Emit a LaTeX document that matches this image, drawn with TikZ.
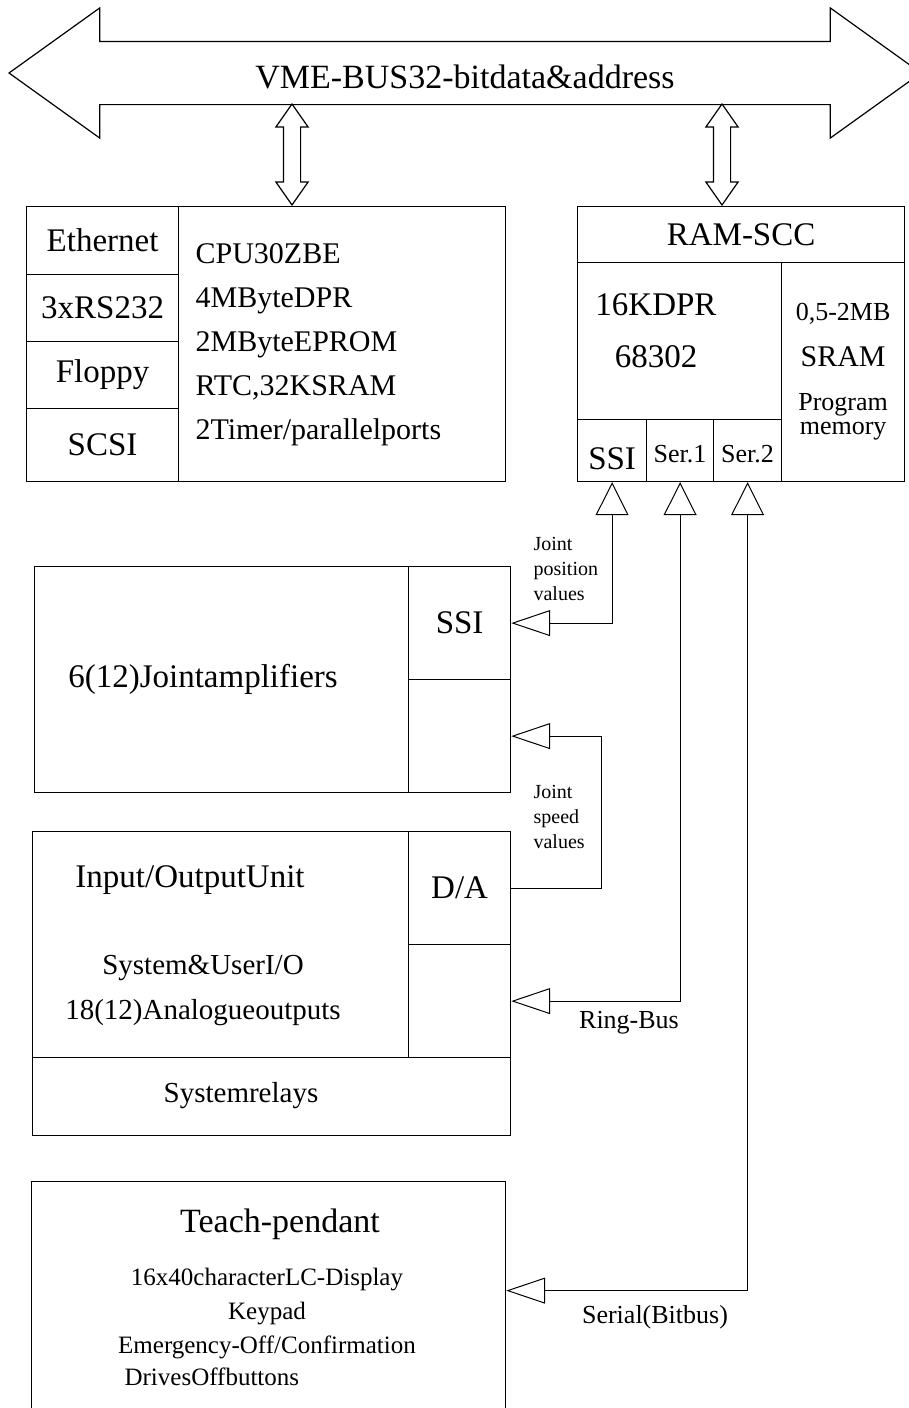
\documentclass[tikz,border=0pt]{standalone}
\usepackage{fontspec}
\setmainfont{Liberation Serif}
\usetikzlibrary{arrows.meta,positioning,calc,shapes.arrows}
\newcommand{\sz}[2]{\fontsize{#1}{#2}\selectfont}

\begin{document}
\begin{tikzpicture}[x=1pt,y=-1pt,line width=1.2pt,
  cell/.style={draw,rectangle,inner sep=0pt,anchor=north west},
  lbl/.style={inner sep=0pt},
  port/.style={draw,double arrow,rotate=90,inner sep=8pt,minimum height=101pt,
    double arrow head extend=7.5pt,double arrow tip angle=70},
  link/.style={line width=1pt},
  tipUp/.tip={Triangle[open,length=33pt,width=33pt]},
  tipLeft/.tip={Triangle[open,length=39pt,width=26pt]}]
\useasboundingbox (0,0) rectangle (909,1408);

% VME bus
\node[draw,double arrow,minimum height=912pt,minimum width=129pt,
  double arrow head extend=33.5pt,double arrow tip angle=71.3,
  inner xsep=0pt,inner ysep=15.5pt,text height=31pt,text depth=0pt,
  font=\sz{34}{40}] (bus) at (465,73) {VME-BUS32-bitdata\&address};
\node[port] (busL) at (292,154.5) {};
\node[port] (busR) at (722,154.5) {};

% CPU board
\node[cell,minimum width=479pt,minimum height=275pt] (cpu) at (26,206) {};
\node[cell,minimum width=152pt,minimum height=68pt,font=\sz{33}{40}] (eth) at (26,206) {Ethernet};
\node[cell,minimum width=152pt,minimum height=67pt,font=\sz{33}{40}] (rs) at (26,274) {3xRS232};
\node[cell,minimum width=152pt,minimum height=67pt,font=\sz{33}{40}] (flop) at (26,341) {Floppy};
\node[cell,minimum width=152pt,minimum height=73pt,font=\sz{33}{40}] (scsi) at (26,408) {SCSI};
\node[lbl,anchor=west,align=left,font=\sz{30}{44}] (cputxt) at (195,344.5)
  {CPU30ZBE\\4MByteDPR\\2MByteEPROM\\RTC,32KSRAM\\2Timer/parallelports};

% RAM-SCC board
\node[cell,minimum width=327pt,minimum height=275pt] (ram) at (577,206) {};
\node[cell,minimum width=327pt,minimum height=56pt,font=\sz{33}{40}] (ramhead) at (577,206) {RAM-SCC};
\node[cell,minimum width=204pt,minimum height=157pt] (dpr) at (577,262) {};
\node[lbl,align=center,font=\sz{33}{52}] (dprtxt) at (656,331) {16KDPR\\68302};
\node[cell,minimum width=123pt,minimum height=219pt,align=center,font=\sz{26}{24}] (sram) at (781,262)
  {0,5-2MB\\[22pt]{\sz{30}{24}SRAM}\\[20pt]Program\\memory};
\node[cell,minimum width=69pt,minimum height=62pt,text height=38pt,text depth=0pt,
  font=\sz{33}{40}] (rssi) at (577,419) {SSI};
\node[cell,minimum width=67pt,minimum height=62pt,text height=24pt,text depth=0pt,
  font=\sz{26}{30}] (rser1) at (646,419) {Ser.1};
\node[cell,minimum width=68pt,minimum height=62pt,text height=24pt,text depth=0pt,
  font=\sz{26}{30}] (rser2) at (713,419) {Ser.2};

% joint amplifiers
\node[cell,minimum width=476pt,minimum height=226pt] (joint) at (34,566) {};
\node[lbl,font=\sz{33}{40}] (jtxt) at (203,679) {6(12)Jointamplifiers};
\node[cell,minimum width=102pt,minimum height=113pt,font=\sz{33}{40}] (jssi) at (408,566) {SSI};
\node[cell,minimum width=102pt,minimum height=113pt] (jspd) at (408,679) {};

% input/output unit
\node[cell,minimum width=478pt,minimum height=226pt] (io) at (32,831) {};
\node[lbl,font=\sz{33}{40}] (iotitle) at (190,880) {Input/OutputUnit};
\node[lbl,align=center,font=\sz{29}{45}] (iotxt) at (203,990) {System\&UserI/O\\18(12)Analogueoutputs};
\node[cell,minimum width=102pt,minimum height=113pt,font=\sz{33}{40}] (da) at (408,831) {D/A};
\node[cell,minimum width=102pt,minimum height=113pt] (ioin) at (408,944) {};
\node[cell,minimum width=478pt,minimum height=78pt] (relay) at (32,1057) {};
\node[lbl,font=\sz{29}{35}] (relaytxt) at (241,1096) {Systemrelays};

% teach pendant
\node[cell,minimum width=474pt,minimum height=240pt] (teach) at (31,1181) {};
\node[lbl,font=\sz{34}{40}] (teachtitle) at (280,1224) {Teach-pendant};
\node[lbl,align=center,font=\sz{25}{34}] (teachtxt) at (267,1314)
  {16x40characterLC-Display\\Keypad\\Emergency-Off/Confirmation};
\node[lbl,anchor=west,font=\sz{25}{34}] (drives) at (124,1377) {DrivesOffbuttons};

% links
\draw[link,tipUp-tipLeft] (rssi.south) |- (jssi.east);
\node[lbl,anchor=west,align=left,font=\sz{20}{25}] (lblpos) at (533,569) {Joint\\position\\values};
\draw[link,-tipLeft] (da.east) -| ($(jspd.east)+(90,0)$) -- (jspd.east);
\node[lbl,anchor=west,align=left,font=\sz{20}{25}] (lblspd) at (533,817) {Joint\\speed\\values};
\draw[link,tipUp-tipLeft] (rser1.south) |- (ioin.east);
\node[lbl,font=\sz{26}{30}] (lblring) at (629,1023) {Ring-Bus};
\draw[link,tipUp-tipLeft] (rser2.south) |- ([yshift=11pt]teach.east);
\node[lbl,font=\sz{26}{30}] (lblser) at (655,1317) {Serial(Bitbus)};
\end{tikzpicture}
\end{document}
